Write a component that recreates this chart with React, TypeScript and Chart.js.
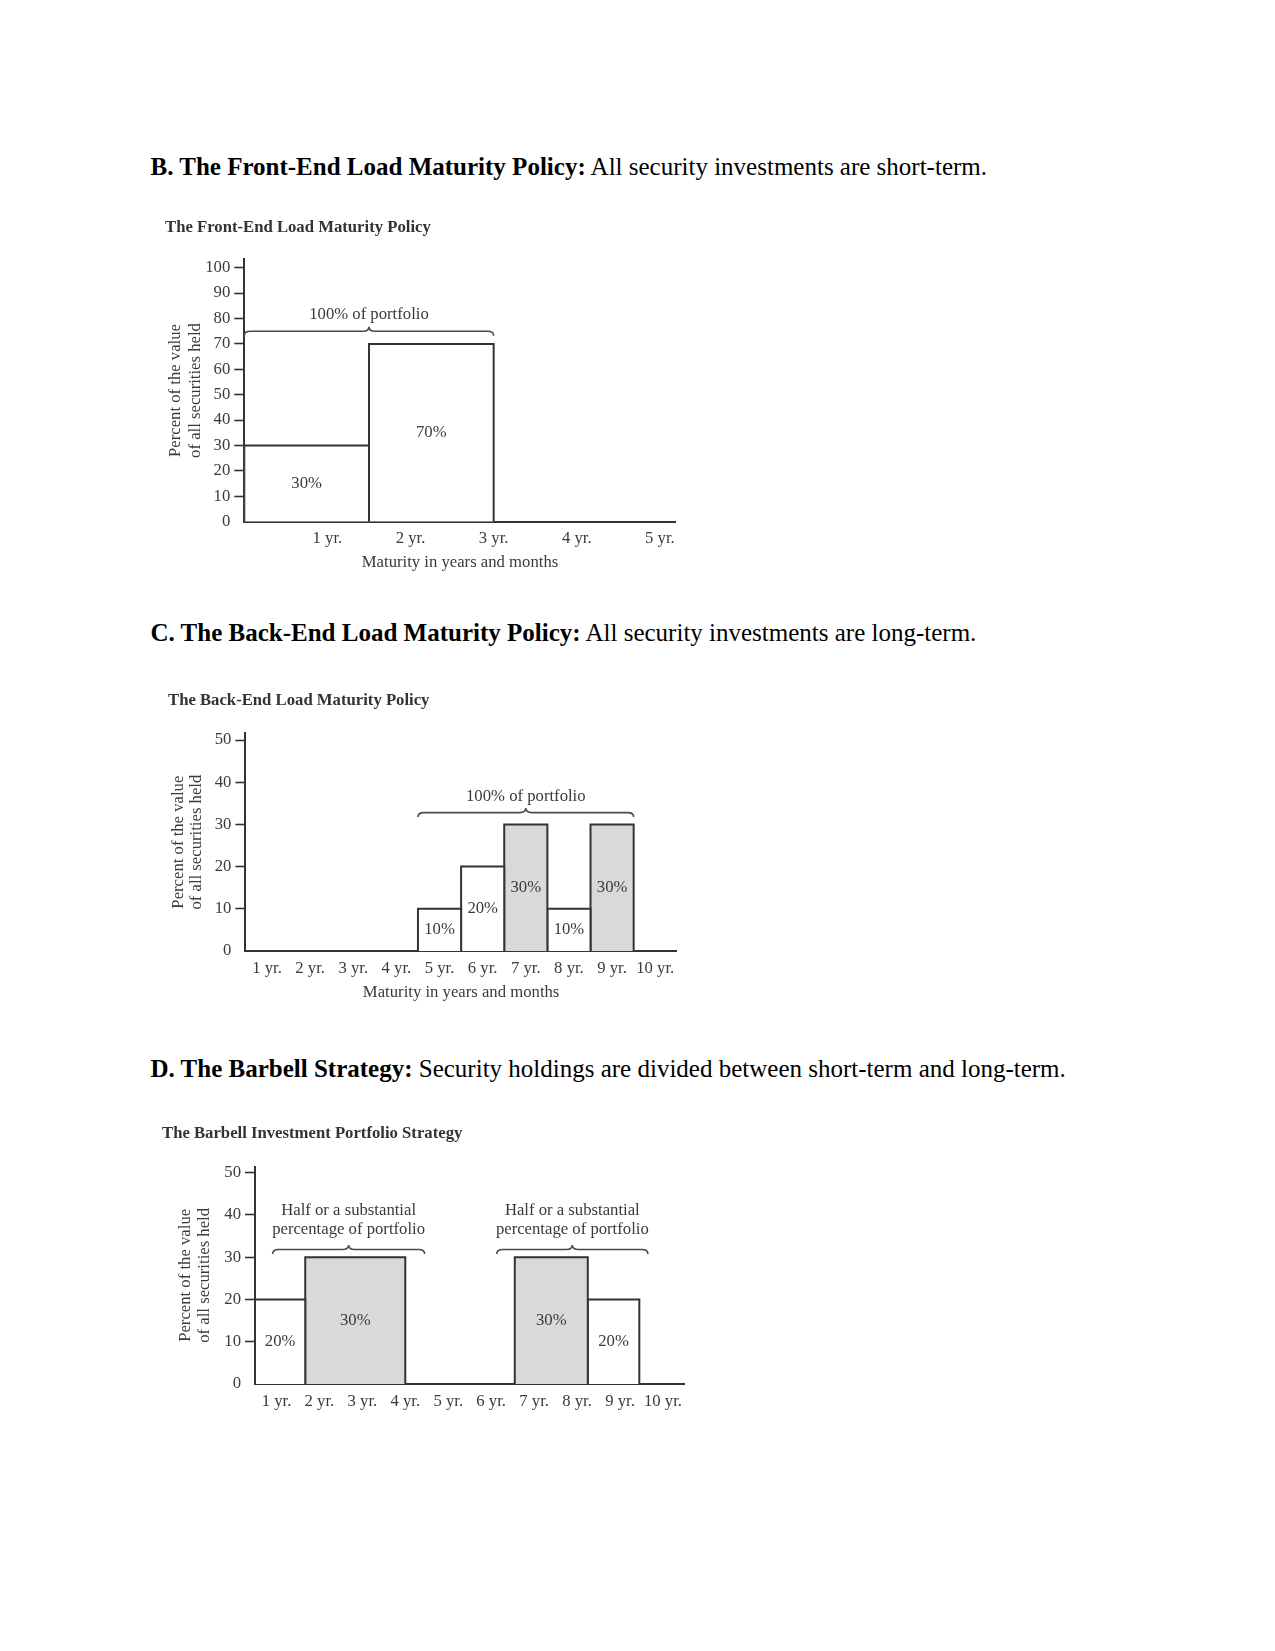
import React, { useEffect, useRef } from "react";
import { Chart, registerables } from "chart.js";

Chart.register(...registerables);

const SERIF = '"Liberation Serif", "Times New Roman", serif';

// ---------------- Section B: Front-End Load ----------------
const frontEndHeadingBold = "B. The Front-End Load Maturity Policy:";
const frontEndHeadingText = " All security investments are short-term.";
const frontEndTitle = "The Front-End Load Maturity Policy";
const frontEndXTickValues = [1, 2, 3, 4, 5];
const frontEndXTickLabels = ["1 yr.", "2 yr.", "3 yr.", "4 yr.", "5 yr."];
const frontEndYTickValues = [0, 10, 20, 30, 40, 50, 60, 70, 80, 90, 100];
const frontEndBarStarts = [0, 1.5];
const frontEndBarEnds = [1.5, 3];
const frontEndBarValues = [30, 70];
const frontEndBarShaded = [false, false];
const frontEndBraceStarts = [0];
const frontEndBraceEnds = [3];
const frontEndBraceLevels = [75];
const frontEndBraceTexts = [["100% of portfolio"]];
const frontEndBraceTextLevels = [[81.4]];

// ---------------- Section C: Back-End Load ----------------
const backEndHeadingBold = "C. The Back-End Load Maturity Policy:";
const backEndHeadingText = " All security investments are long-term.";
const backEndTitle = "The Back-End Load Maturity Policy";
const backEndXTickValues = [1, 2, 3, 4, 5, 6, 7, 8, 9, 10];
const backEndXTickLabels = ["1 yr.", "2 yr.", "3 yr.", "4 yr.", "5 yr.", "6 yr.", "7 yr.", "8 yr.", "9 yr.", "10 yr."];
const backEndYTickValues = [0, 10, 20, 30, 40, 50];
const backEndBarStarts = [4.5, 5.5, 6.5, 7.5, 8.5];
const backEndBarEnds = [5.5, 6.5, 7.5, 8.5, 9.5];
const backEndBarValues = [10, 20, 30, 10, 30];
const backEndBarShaded = [false, false, true, false, true];
const backEndBraceStarts = [4.5];
const backEndBraceEnds = [9.5];
const backEndBraceLevels = [32.8];
const backEndBraceTexts = [["100% of portfolio"]];
const backEndBraceTextLevels = [[36.7]];

// ---------------- Section D: Barbell ----------------
const barbellHeadingBold = "D. The Barbell Strategy:";
const barbellHeadingText = " Security holdings are divided between short-term and long-term.";
const barbellTitle = "The Barbell Investment Portfolio Strategy";
const barbellXTickValues = [1, 2, 3, 4, 5, 6, 7, 8, 9, 10];
const barbellXTickLabels = ["1 yr.", "2 yr.", "3 yr.", "4 yr.", "5 yr.", "6 yr.", "7 yr.", "8 yr.", "9 yr.", "10 yr."];
const barbellYTickValues = [0, 10, 20, 30, 40, 50];
const barbellBarStarts = [0.5, 1.67, 6.55, 8.25];
const barbellBarEnds = [1.67, 4.0, 8.25, 9.45];
const barbellBarValues = [20, 30, 30, 20];
const barbellBarShaded = [false, true, true, false];
const barbellBraceStarts = [0.91, 6.13];
const barbellBraceEnds = [4.45, 9.65];
const barbellBraceLevels = [31.8, 31.8];
const barbellBraceTexts = [
  ["Half or a substantial", "percentage of portfolio"],
  ["Half or a substantial", "percentage of portfolio"],
];
const barbellBraceTextLevels = [
  [41.0, 36.6],
  [41.0, 36.6],
];

const yAxisTitle = ["Percent of the value", "of all securities held"];
const xAxisTitle = "Maturity in years and months";

type Frame = {
  left: number;
  top: number;
  width: number;
  height: number;
  yAxisWidth: number;
  xAxisHeight: number;
  padRight: number;
  titlePadTop: number;
  titlePadBottom: number;
  yTitlePadTop: number;
  yTitleLineHeight: number;
  xTickPad: number;
  xTitlePadBottom: number;
};

type Spec = {
  title: string;
  xMin: number;
  xMax: number;
  yMax: number;
  xTicks: number[];
  xLabels: string[];
  yTicks: number[];
  xTitle: string | null;
  starts: number[];
  ends: number[];
  values: number[];
  shaded: boolean[];
  braceStarts: number[];
  braceEnds: number[];
  braceLevels: number[];
  braceTexts: string[][];
  braceTextLevels: number[][];
  frame: Frame;
};

const EDGE = "#333333";
const TEXT = "#3a3a3a";
const SHADE = "#d9d9d9";
const FS = 16.7;

function makePlugin(spec: Spec) {
  return {
    id: "annotations",
    afterDraw(chart: any) {
      const { ctx } = chart;
      const x = chart.scales.x;
      const y = chart.scales.y;
      ctx.save();
      ctx.font = `${FS}px ${SERIF}`;
      ctx.fillStyle = TEXT;
      ctx.textAlign = "center";
      ctx.textBaseline = "middle";
      spec.values.forEach((v, i) => {
        const cx = x.getPixelForValue((spec.starts[i] + spec.ends[i]) / 2);
        const cy = y.getPixelForValue(v / 2);
        ctx.fillText(`${v}%`, cx, cy);
      });
      spec.braceStarts.forEach((s, i) => {
        const x0 = x.getPixelForValue(s);
        const x1 = x.getPixelForValue(spec.braceEnds[i]);
        const xm = (x0 + x1) / 2;
        const yb = y.getPixelForValue(spec.braceLevels[i]);
        const r = 6;
        const d = 4.5;
        ctx.beginPath();
        ctx.moveTo(x0, yb + d);
        ctx.quadraticCurveTo(x0, yb, x0 + r, yb);
        ctx.lineTo(xm - r, yb);
        ctx.quadraticCurveTo(xm, yb, xm, yb - d);
        ctx.quadraticCurveTo(xm, yb, xm + r, yb);
        ctx.lineTo(x1 - r, yb);
        ctx.quadraticCurveTo(x1, yb, x1, yb + d);
        ctx.strokeStyle = "#4a4a4a";
        ctx.lineWidth = 1.6;
        ctx.stroke();
        ctx.font = `${FS}px ${SERIF}`;
        ctx.fillStyle = TEXT;
        spec.braceTexts[i].forEach((t, j) => {
          ctx.fillText(t, xm, y.getPixelForValue(spec.braceTextLevels[i][j]));
        });
      });
      ctx.restore();
    },
  };
}

function makeConfig(spec: Spec): any {
  const f = spec.frame;
  const datasets = spec.values.map((v, i) => ({
    type: "line",
    data: [
      { x: spec.starts[i], y: 0 },
      { x: spec.starts[i], y: v },
      { x: spec.ends[i], y: v },
      { x: spec.ends[i], y: 0 },
    ],
    fill: "origin",
    backgroundColor: spec.shaded[i] ? SHADE : "#ffffff",
    borderColor: EDGE,
    borderWidth: 2,
    pointRadius: 0,
    pointHoverRadius: 0,
    tension: 0,
  }));
  return {
    type: "line",
    data: { datasets },
    plugins: [makePlugin(spec)],
    options: {
      responsive: false,
      animation: false,
      events: [],
      layout: { padding: { left: 0, top: 0, right: f.padRight, bottom: 0 }, autoPadding: false },
      plugins: {
        legend: { display: false },
        tooltip: { enabled: false },
        title: {
          display: true,
          text: spec.title,
          align: "start",
          color: "#333333",
          font: { family: SERIF, size: FS, weight: "bold", lineHeight: 20 / FS },
          padding: { top: f.titlePadTop, bottom: f.titlePadBottom },
        },
      },
      scales: {
        x: {
          type: "linear",
          min: spec.xMin,
          max: spec.xMax,
          z: 1,
          afterBuildTicks: (s: any) => {
            s.ticks = spec.xTicks.map((v) => ({ value: v }));
          },
          afterFit: (s: any) => {
            s.height = f.xAxisHeight;
          },
          grid: { display: false, drawTicks: false },
          border: { display: true, color: EDGE, width: 2 },
          ticks: {
            autoSkip: false,
            maxRotation: 0,
            minRotation: 0,
            padding: f.xTickPad,
            color: TEXT,
            font: { family: SERIF, size: FS, lineHeight: 20 / FS },
            callback: (_v: any, idx: number) => spec.xLabels[idx],
          },
          title: {
            display: !!spec.xTitle,
            text: spec.xTitle || "",
            color: TEXT,
            font: { family: SERIF, size: FS, lineHeight: 20 / FS },
            padding: { top: 0, bottom: f.xTitlePadBottom },
          },
        },
        y: {
          type: "linear",
          min: 0,
          max: spec.yMax,
          z: 1,
          afterBuildTicks: (s: any) => {
            s.ticks = spec.yTicks.map((v) => ({ value: v }));
          },
          afterFit: (s: any) => {
            s.width = f.yAxisWidth;
          },
          grid: {
            display: true,
            drawOnChartArea: false,
            drawTicks: true,
            tickLength: 10,
            tickWidth: 1.6,
            tickColor: (c: any) => (c.tick && c.tick.value === 0 ? "rgba(0,0,0,0)" : EDGE),
          },
          border: { display: true, color: EDGE, width: 2 },
          ticks: {
            padding: 4,
            color: TEXT,
            font: { family: SERIF, size: FS, lineHeight: 20 / FS },
            callback: (v: any) => String(v),
          },
          title: {
            display: true,
            text: yAxisTitle,
            color: TEXT,
            font: { family: SERIF, size: FS, lineHeight: f.yTitleLineHeight / FS },
            padding: { top: f.yTitlePadTop, bottom: 0 },
          },
        },
      },
    },
  };
}

function ChartBox({ spec }: { spec: Spec }) {
  const ref = useRef<HTMLCanvasElement | null>(null);
  useEffect(() => {
    if (!ref.current) return;
    const chart = new Chart(ref.current, makeConfig(spec));
    return () => chart.destroy();
  }, [spec]);
  const f = spec.frame;
  return (
    <canvas
      ref={ref}
      width={f.width}
      height={f.height}
      style={{ position: "absolute", left: f.left, top: f.top, width: f.width, height: f.height }}
    />
  );
}

const frontEndSpec: Spec = {
  title: frontEndTitle,
  xMin: 0,
  xMax: 5.19,
  yMax: 103.3,
  xTicks: frontEndXTickValues,
  xLabels: frontEndXTickLabels,
  yTicks: frontEndYTickValues,
  xTitle: xAxisTitle,
  starts: frontEndBarStarts,
  ends: frontEndBarEnds,
  values: frontEndBarValues,
  shaded: frontEndBarShaded,
  braceStarts: frontEndBraceStarts,
  braceEnds: frontEndBraceEnds,
  braceLevels: frontEndBraceLevels,
  braceTexts: frontEndBraceTexts,
  braceTextLevels: frontEndBraceTextLevels,
  frame: {
    left: 165,
    top: 200,
    width: 535,
    height: 379,
    yAxisWidth: 79.3,
    xAxisHeight: 57.3,
    padRight: 24.3,
    titlePadTop: 17.3,
    titlePadBottom: 22,
    yTitlePadTop: 0.9,
    yTitleLineHeight: 19.6,
    xTickPad: 7.4,
    xTitlePadBottom: 6.3,
  },
};

const backEndSpec: Spec = {
  title: backEndTitle,
  xMin: 0.5,
  xMax: 10.5,
  yMax: 51.6,
  xTicks: backEndXTickValues,
  xLabels: backEndXTickLabels,
  yTicks: backEndYTickValues,
  xTitle: xAxisTitle,
  starts: backEndBarStarts,
  ends: backEndBarEnds,
  values: backEndBarValues,
  shaded: backEndBarShaded,
  braceStarts: backEndBraceStarts,
  braceEnds: backEndBraceEnds,
  braceLevels: backEndBraceLevels,
  braceTexts: backEndBraceTexts,
  braceTextLevels: backEndBraceTextLevels,
  frame: {
    left: 168,
    top: 670,
    width: 533,
    height: 339,
    yAxisWidth: 77.4,
    xAxisHeight: 58,
    padRight: 24.2,
    titlePadTop: 20.7,
    titlePadBottom: 22.6,
    yTitlePadTop: 1.35,
    yTitleLineHeight: 18.5,
    xTickPad: 7.3,
    xTitlePadBottom: 6.3,
  },
};

const barbellSpec: Spec = {
  title: barbellTitle,
  xMin: 0.5,
  xMax: 10.5,
  yMax: 51.4,
  xTicks: barbellXTickValues,
  xLabels: barbellXTickLabels,
  yTicks: barbellYTickValues,
  xTitle: null,
  starts: barbellBarStarts,
  ends: barbellBarEnds,
  values: barbellBarValues,
  shaded: barbellBarShaded,
  braceStarts: barbellBraceStarts,
  braceEnds: barbellBraceEnds,
  braceLevels: barbellBraceLevels,
  braceTexts: barbellBraceTexts,
  braceTextLevels: barbellBraceTextLevels,
  frame: {
    left: 162,
    top: 1105,
    width: 546,
    height: 311,
    yAxisWidth: 93,
    xAxisHeight: 32,
    padRight: 23.6,
    titlePadTop: 19,
    titlePadBottom: 22.7,
    yTitlePadTop: 13.9,
    yTitleLineHeight: 19.2,
    xTickPad: 7.8,
    xTitlePadBottom: 0,
  },
};

function Heading({ bold, text, top }: { bold: string; text: string; top: number }) {
  return (
    <div
      style={{
        position: "absolute",
        left: 150.5,
        top,
        fontFamily: SERIF,
        fontSize: 25,
        lineHeight: "25px",
        color: "#000",
        whiteSpace: "nowrap",
      }}
    >
      <b>{bold}</b>
      <span>{text}</span>
    </div>
  );
}

export default function App() {
  return (
    <div
      style={{
        position: "absolute",
        left: 0,
        top: 0,
        width: 1275,
        height: 1651,
        background: "#ffffff",
        overflow: "hidden",
      }}
    >
      <Heading bold={frontEndHeadingBold} text={frontEndHeadingText} top={153.5} />
      <ChartBox spec={frontEndSpec} />
      <Heading bold={backEndHeadingBold} text={backEndHeadingText} top={619.5} />
      <ChartBox spec={backEndSpec} />
      <Heading bold={barbellHeadingBold} text={barbellHeadingText} top={1056.2} />
      <ChartBox spec={barbellSpec} />
    </div>
  );
}
